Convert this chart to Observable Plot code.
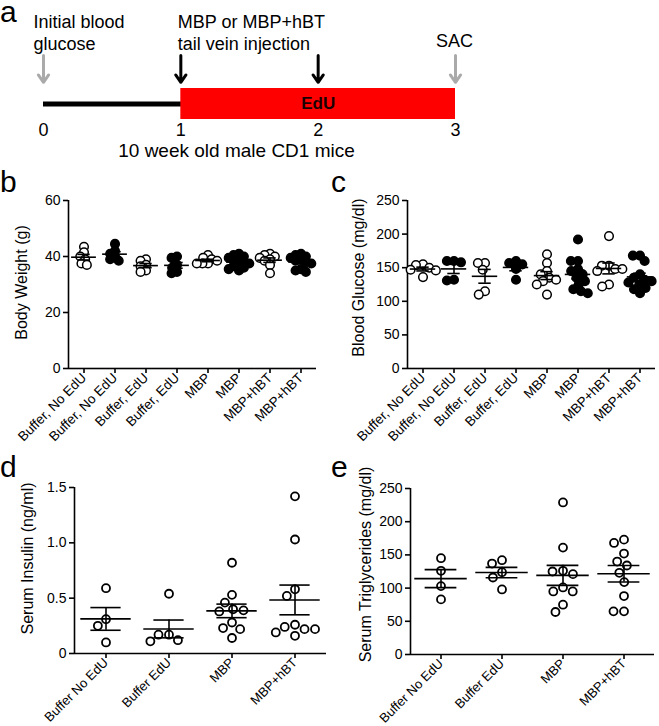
<!DOCTYPE html>
<html><head><meta charset="utf-8">
<script src="https://cdn.jsdelivr.net/npm/d3@7"></script>
<script src="https://cdn.jsdelivr.net/npm/@observablehq/plot@0.6"></script>
<style>
body{margin:0;background:#fff;}
#fig{position:relative;width:659px;height:726px;font-family:"Liberation Sans",Arial,Helvetica,sans-serif;overflow:hidden;background:#fff;}
.panel{position:absolute;}
.letter{position:absolute;font-size:30px;line-height:22px;color:#000;z-index:5;}
</style></head><body><div id="fig"></div>
<script>
// ---------- data ----------
// panel a: timeline (weeks)
const timelineTicks = [0, 1, 2, 3];
const grayArrowTimes = [0, 3];
const blackArrowTimes = [1, 2];
const eduPeriod = [{start: 1, end: 3}];
const timelineNotes = ["Initial blood\nglucose", "MBP or MBP+hBT\ntail vein injection", "SAC"];
const timelineLabel = "10 week old male CD1 mice";

// panels b, c
const groupsBC = ["Buffer, No EdU", "Buffer, No EdU", "Buffer, EdU", "Buffer, EdU", "MBP", "MBP", "MBP+hBT", "MBP+hBT"];
const filledBC = [false, true, false, true, false, true, false, true];
const bodyWeight = [
  [43.5, 41.5, 40, 39, 37.5, 37],
  [44.5, 42, 41, 40, 39, 38.5],
  [39, 38.5, 37, 36.5, 35, 34.5],
  [40, 39.5, 37, 36, 34.5, 34],
  [40.5, 39.5, 39, 38.5, 37.5, 37.5, 37.5],
  [41, 40.5, 40, 39.5, 39, 38.5, 38, 37.5, 37, 36.5, 36, 35.5, 35],
  [41, 40.5, 40, 39.5, 39, 38.5, 37, 34],
  [41, 40.5, 40, 39.5, 39, 38.5, 38, 37.5, 35.5, 35, 34.5]
];
const bloodGlucose = [
  [155, 154, 150, 147, 146, 136],
  [160, 160, 158, 132, 131],
  [157, 157, 147, 115, 110],
  [160, 157, 155, 148, 132],
  [170, 157, 145, 140, 135, 132, 130, 125, 110],
  [192, 160, 160, 148, 145, 140, 135, 130, 125, 118, 115, 112],
  [197, 153, 153, 148, 148, 145, 125, 122],
  [168, 168, 160, 140, 135, 132, 130, 128, 125, 120, 118, 112]
];
const weightTicks = [0, 20, 40, 60];
const glucoseTicks = [0, 50, 100, 150, 200, 250];

// panels d, e
const groupsDE = ["Buffer No EdU", "Buffer EdU", "MBP", "MBP+hBT"];
const filledDE = [false, false, false, false];
const insulin = [
  [0.59, 0.31, 0.25, 0.10],
  [0.54, 0.17, 0.17, 0.12, 0.11],
  [0.82, 0.53, 0.46, 0.40, 0.39, 0.38, 0.28, 0.23, 0.22, 0.14],
  [1.42, 1.03, 0.58, 0.52, 0.26, 0.24, 0.22, 0.22, 0.19, 0.16]
];
const triglycerides = [
  [145, 126, 103, 83],
  [142, 137, 124, 116, 98],
  [229, 161, 126, 125, 121, 101, 95, 95, 75, 64],
  [173, 168, 152, 140, 134, 123, 109, 88, 65, 65]
];
const insulinTicks = [0, 0.5, 1.0, 1.5];
const trigTicks = [0, 50, 100, 150, 200, 250];

// ---------- drawing ----------
const FONT = '"Liberation Sans", Arial, Helvetica, sans-serif';
const fig = document.getElementById("fig");
function place(node, left, top) {
  node.classList.add("panel");
  node.style.left = left + "px";
  node.style.top = top + "px";
  fig.appendChild(node);
}
function letter(t, left, top) {
  const d = document.createElement("div");
  d.className = "letter";
  d.textContent = t;
  d.style.left = left + "px";
  d.style.top = top + "px";
  fig.appendChild(d);
}

// panel a
const timeline = Plot.plot({
  width: 659, height: 165,
  marginLeft: 43, marginRight: 204, marginTop: 88, marginBottom: 46,
  style: {fontFamily: FONT, fontSize: "18px", color: "#000", background: "transparent", overflow: "visible"},
  x: {domain: [0, 3]},
  y: {domain: [-1, 1], axis: null},
  marks: [
    Plot.ruleY([0], {x1: timelineTicks[0], x2: timelineTicks[3], stroke: "#000", strokeWidth: 5}),
    Plot.rect(eduPeriod, {x1: "start", x2: "end", y1: -1, y2: 1, fill: "#ff0000"}),
    Plot.text(["EdU"], {x: (eduPeriod[0].start + eduPeriod[0].end) / 2, y: 0, fontWeight: "bold", fontSize: 17, fill: "#1a0000"}),
    Plot.arrow(grayArrowTimes, {x1: d => d, x2: d => d, y1: 3.13, y2: 1.4, stroke: "#aaaaaa", strokeWidth: 3, headLength: 10, headAngle: 70}),
    Plot.arrow(blackArrowTimes, {x1: d => d, x2: d => d, y1: 3.13, y2: 1.4, stroke: "#000", strokeWidth: 3, headLength: 10, headAngle: 70}),
    Plot.text([timelineNotes[0]], {x: grayArrowTimes[0], frameAnchor: "top", textAnchor: "start", lineAnchor: "top", dx: -10, dy: -76, lineHeight: 1.22, fontSize: 18, fill: "#000"}),
    Plot.text([timelineNotes[1]], {x: blackArrowTimes[0], frameAnchor: "top", textAnchor: "start", lineAnchor: "top", dx: -3, dy: -76, lineHeight: 1.22, fontSize: 18, fill: "#000"}),
    Plot.text([timelineNotes[2]], {x: grayArrowTimes[1], frameAnchor: "top", textAnchor: "middle", lineAnchor: "top", dx: -1, dy: -54, fontSize: 18, fill: "#000"}),
    Plot.axisX({ticks: timelineTicks, tickFormat: d => String(d), tickSize: 0, tickPadding: 4, fontSize: 18, label: null}),
    Plot.text([timelineLabel], {frameAnchor: "bottom", textAnchor: "middle", lineAnchor: "top", dx: -13, dy: 24, fontSize: 19, fill: "#000"})
  ]
});
place(timeline, 0, 0);

function scatterPanel(o) {
  const n = o.values.length;
  const rows = o.values.flatMap((vals, g) => vals.map(v => ({g, v, filled: o.filled[g]})));
  const stats = o.values.map((vals, g) => {
    const m = d3.mean(vals), s = d3.deviation(vals) / Math.sqrt(vals.length);
    return {g, mean: m, lo: m - s, hi: m + s};
  });
  const [y0, y1] = o.yDomain;
  const line = {stroke: "#000", strokeWidth: 1.6};
  return Plot.plot({
    width: o.width, height: o.height,
    marginLeft: o.ml, marginRight: o.mr, marginTop: o.mt, marginBottom: o.mb,
    style: {fontFamily: FONT, fontSize: "14px", color: "#000", background: "transparent", overflow: "visible"},
    fx: {domain: d3.range(n), padding: 0, label: null},
    x: {domain: [-0.5, 0.5], axis: null},
    y: {domain: o.yDomain, label: null},
    color: {type: "identity"},
    marks: [
      Plot.ruleY([y0], line),
      Plot.ruleX([{g: 0}], {fx: "g", x: -0.5, y1: y0, y2: y1, ...line}),
      Plot.axisY({ticks: o.yTicks, tickFormat: o.yFormat, tickSize: 5, tickPadding: 3, fontSize: 14, label: null, strokeWidth: 1.6}),
      Plot.axisFx({anchor: "bottom", tickSize: 5, tickPadding: 2, tickRotate: -45, tickFormat: i => o.labels[i], fontSize: o.xfs, label: null, strokeWidth: 1.6}),
      Plot.dot(rows, Plot.dodgeX({anchor: "middle", padding: o.pad}, {fx: "g", y: "v", r: o.r, fill: d => d.filled ? "#000" : "#fff", stroke: "#000", strokeWidth: o.sw})),
      Plot.ruleY(stats, {fx: "g", y: "mean", x1: -o.mw, x2: o.mw, ...line}),
      Plot.ruleX(stats, {fx: "g", x: 0, y1: "lo", y2: "hi", ...line}),
      Plot.ruleY(stats, {fx: "g", y: "lo", x1: -o.cw, x2: o.cw, ...line}),
      Plot.ruleY(stats, {fx: "g", y: "hi", x1: -o.cw, x2: o.cw, ...line}),
      Plot.text([{g: 0}], {fx: "g", text: () => o.yLabel, frameAnchor: "left", rotate: -90, textAnchor: "middle", lineAnchor: "bottom", dx: o.ldx, dy: o.ldy, fontSize: 16, fill: "#000"})
    ]
  });
}

place(scatterPanel({
  values: bodyWeight, labels: groupsBC, filled: filledBC, yDomain: [0, 60], yTicks: weightTicks,
  yFormat: d => String(d), yLabel: "Body Weight (g)",
  width: 330, height: 258, ml: 67, mr: 13, mt: 10, mb: 80, xfs: 13.5,
  r: 4.3, sw: 1.5, pad: -3, mw: 0.4, cw: 0.2, ldx: -42, ldy: -2
}), 0, 190);

place(scatterPanel({
  values: bloodGlucose, labels: groupsBC, filled: filledBC, yDomain: [0, 250], yTicks: glucoseTicks,
  yFormat: d => String(d), yLabel: "Blood Glucose (mg/dl)",
  width: 329, height: 258, ml: 77, mr: 4, mt: 10, mb: 80, xfs: 13.5,
  r: 4.3, sw: 1.5, pad: -1.5, mw: 0.41, cw: 0.2, ldx: -43.5, ldy: -7
}), 330, 190);

place(scatterPanel({
  values: insulin, labels: groupsDE, filled: filledDE, yDomain: [0, 1.5], yTicks: insulinTicks,
  yFormat: d => d === 0 ? "0" : d.toFixed(1), yLabel: "Serum Insulin (ng/ml)",
  width: 330, height: 256, ml: 74, mr: 4, mt: 17, mb: 73, xfs: 13,
  r: 4, sw: 1.8, pad: 2.5, mw: 0.4, cw: 0.24, ldx: -42, ldy: -12
}), 0, 470);

place(scatterPanel({
  values: triglycerides, labels: groupsDE, filled: filledDE, yDomain: [0, 250], yTicks: trigTicks,
  yFormat: d => String(d), yLabel: "Serum Triglycerides (mg/dl)",
  width: 329, height: 256, ml: 79, mr: 4, mt: 18, mb: 72, xfs: 13,
  r: 4, sw: 1.8, pad: 2.5, mw: 0.43, cw: 0.26, ldx: -40, ldy: -7
}), 330, 470);

letter("a", 0, 0.6);
letter("b", 0, 170.6);
letter("c", 331, 170.6);
letter("d", 0, 455.6);
letter("e", 331, 455.6);
</script>
</body></html>
